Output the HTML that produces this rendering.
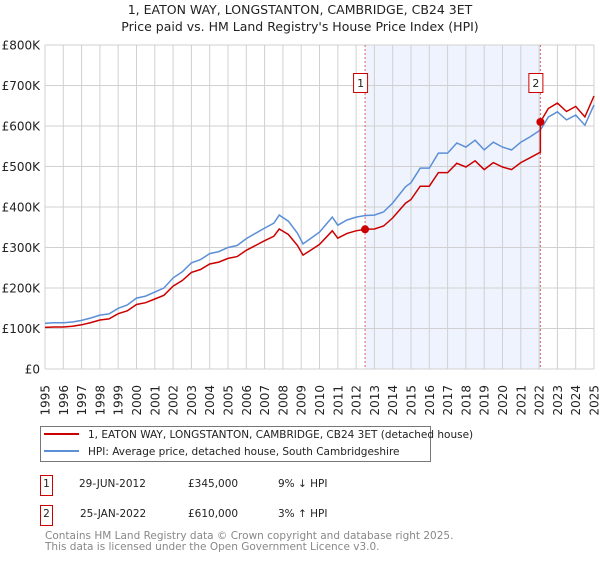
<!DOCTYPE html>
<html><head><meta charset="utf-8"><style>
body{margin:0;background:#fff;font-family:"DejaVu Sans","Liberation Sans",sans-serif;}
svg text{font-family:"DejaVu Sans","Liberation Sans",sans-serif;}
</style></head><body>
<svg id="c" width="600" height="560" xmlns="http://www.w3.org/2000/svg">
<text x="300" y="14" text-anchor="middle" font-size="12.5" fill="#222">1, EATON WAY, LONGSTANTON, CAMBRIDGE, CB24 3ET</text>
<text x="300" y="31" text-anchor="middle" font-size="12.5" fill="#222">Price paid vs. HM Land Registry's House Price Index (HPI)</text>
<g id="plot"></g>
<g>
<rect x="40.5" y="426.5" width="390" height="35" fill="#fff" stroke="#777"/>
<line x1="44" y1="434" x2="79" y2="434" stroke="#cc0000" stroke-width="2"/>
<text x="88" y="438" font-size="10.5" fill="#222">1, EATON WAY, LONGSTANTON, CAMBRIDGE, CB24 3ET (detached house)</text>
<line x1="44" y1="451" x2="79" y2="451" stroke="#5b8fd6" stroke-width="2"/>
<text x="88" y="455" font-size="10.5" fill="#222">HPI: Average price, detached house, South Cambridgeshire</text>
</g>
<g font-size="10.5" fill="#222">
<rect x="40.5" y="475.5" width="12" height="20" fill="#fff" stroke="#cc0000"/>
<text x="46.5" y="487" text-anchor="middle">1</text>
<text x="79" y="487">29-JUN-2012</text>
<text x="188" y="487">£345,000</text>
<text x="278" y="487">9% ↓ HPI</text>
<rect x="40.5" y="505.5" width="12" height="20" fill="#fff" stroke="#cc0000"/>
<text x="46.5" y="517" text-anchor="middle">2</text>
<text x="80" y="517">25-JAN-2022</text>
<text x="188" y="517">£610,000</text>
<text x="278" y="517">3% ↑ HPI</text>
</g>
<text x="45" y="539" font-size="10.5" fill="#888">Contains HM Land Registry data © Crown copyright and database right 2025.</text>
<text x="45" y="550" font-size="10.5" fill="#888">This data is licensed under the Open Government Licence v3.0.</text>
</svg>
<script>
const yearTicks=[1995,1996,1997,1998,1999,2000,2001,2002,2003,2004,2005,2006,2007,2008,2009,2010,2011,2012,2013,2014,2015,2016,2017,2018,2019,2020,2021,2022,2023,2024,2025];
const valueTicks=[0,100,200,300,400,500,600,700,800];
const valueLabels=["£0","£100K","£200K","£300K","£400K","£500K","£600K","£700K","£800K"];
const hpiDates=[1995,1995.5,1996,1996.5,1997,1997.5,1998,1998.5,1999,1999.5,2000,2000.5,2001,2001.5,2002,2002.5,2003,2003.5,2004,2004.5,2005,2005.5,2006,2006.5,2007,2007.5,2007.8,2008.3,2008.8,2009.1,2009.6,2010,2010.7,2011,2011.5,2012,2012.5,2013,2013.5,2014,2014.7,2015,2015.5,2016,2016.5,2017,2017.5,2018,2018.5,2019,2019.5,2020,2020.5,2021,2021.5,2022.07,2022.5,2023,2023.5,2024,2024.5,2025];
const hpiValues=[113,114,114,116,120,126,133,136,150,158,175,180,190,200,225,240,262,270,285,290,300,305,322,335,348,360,380,365,335,309,325,338,375,355,368,375,379,380,388,410,450,460,496,496,533,533,558,548,565,541,560,548,541,560,573,590,622,635,615,627,602,652];
const saleDates=[2012.49,2022.07];
const salePrices=[345,610];
const saleRatios=[0.91,1.034];

const svg=document.getElementById('c'),plot=document.getElementById('plot'),NS='http://www.w3.org/2000/svg';
const X0=45,X1=594,Y0=369,Y1=45;
const xs=d=>X0+(d-1995)/(2025-1995)*(X1-X0);
const ys=v=>Y0-v/800*(Y0-Y1);
function mk(t,a){const e=document.createElementNS(NS,t);for(const k in a)e.setAttribute(k,a[k]);plot.appendChild(e);return e;}
let sh=mk('rect',{x:xs(saleDates[0]),y:Y1,width:xs(saleDates[1])-xs(saleDates[0]),height:Y0-Y1,fill:'#eef3fd'});


yearTicks.forEach(yr=>{
 const g=mk('line',{x1:xs(yr),x2:xs(yr),y1:Y1,y2:Y0,stroke:'#d0d0d0','stroke-width':1});
 
 
 const tx=xs(yr)+4.5,ty=385;
 const t=mk('text',{x:tx,y:ty,'font-size':12,fill:'#222','text-anchor':'end',transform:'rotate(-90 '+tx+' '+ty+')'});
 t.textContent=yr;
 
 
});
valueTicks.forEach((v,i)=>{
 const g=mk('line',{x1:X0,x2:X1,y1:ys(v),y2:ys(v),stroke:'#d0d0d0','stroke-width':1});
 
 
 const t=mk('text',{x:40,y:ys(v)+4.5,'font-size':12,fill:'#222','text-anchor':'end'});
 t.textContent=valueLabels[i];
 
 
});
saleDates.forEach((d,i)=>{
 const l=mk('line',{x1:xs(d),x2:xs(d),y1:Y1,y2:Y0,stroke:'#e06060','stroke-dasharray':'2,2','stroke-width':1});
 
 
 const r=mk('rect',{x:xs(d)-11.5,y:73.5,width:14,height:19,fill:'#fff',stroke:'#cc0000'});
 
 
 const t=mk('text',{x:xs(d)-4.5,y:87,'font-size':11,fill:'#222','text-anchor':'middle'});
 t.textContent=String(i+1);
 
 
});
const hp=hpiDates.map((d,i)=>xs(d).toFixed(1)+','+ys(hpiValues[i]).toFixed(1)).join(' ');
const hl=mk('polyline',{points:hp,fill:'none',stroke:'#5b8fd6','stroke-width':1.5});


const pp=[];
hpiDates.forEach((d,i)=>{
 if(d>=saleDates[1]&&pp.length&&hpiDates[i-1]<saleDates[1]){
  pp.push(xs(saleDates[1])+','+ys(hpiValues[i-1]*saleRatios[0]+(hpiValues[i]-hpiValues[i-1])*saleRatios[0]*0.9));
  pp.push(xs(saleDates[1])+','+ys(salePrices[1]));
 }
 const r=d<saleDates[1]?saleRatios[0]:saleRatios[1];
 pp.push(xs(d).toFixed(1)+','+ys(hpiValues[i]*r).toFixed(1));
});
const pl=mk('polyline',{points:pp.join(' '),fill:'none',stroke:'#cc0000','stroke-width':1.5});


saleDates.forEach((d,i)=>{
 const c=mk('circle',{cx:xs(d),cy:ys(salePrices[i]),r:4,fill:'#cc0000'});
 
 
});
</script>
</body></html>
